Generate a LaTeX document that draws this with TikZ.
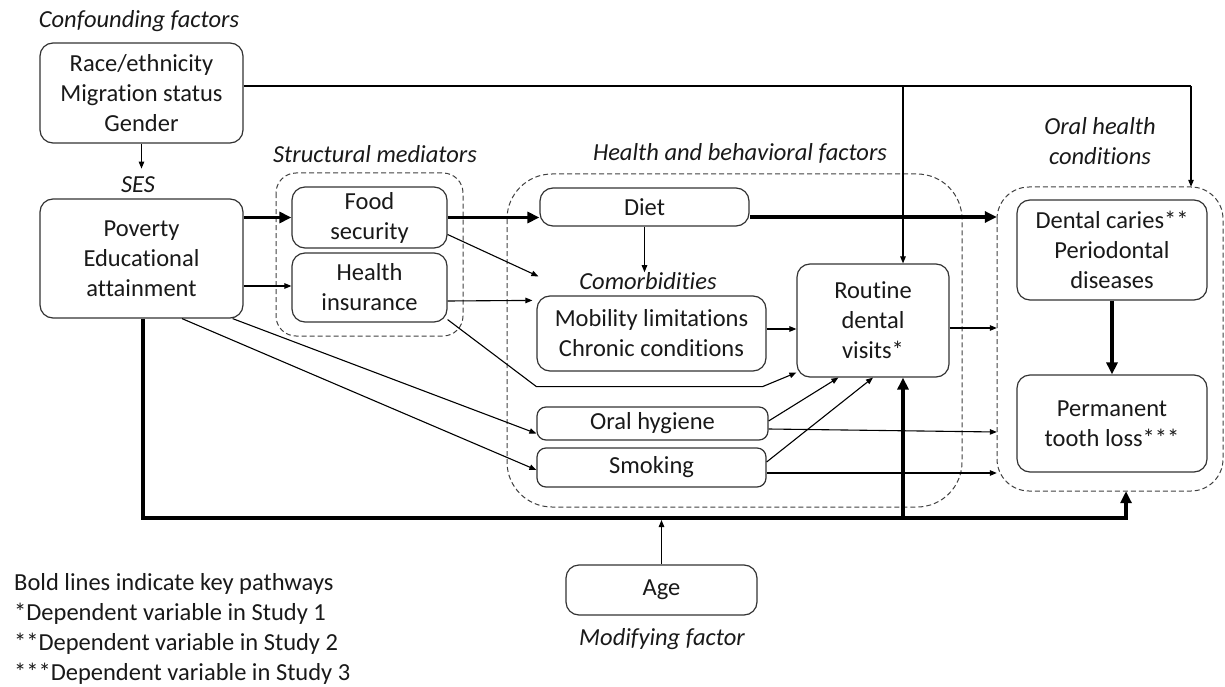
\documentclass[tikz,border=0pt]{standalone}
\usepackage{fontspec}
\setmainfont{Carlito}[Ligatures={NoCommon,NoContextual}]
\usetikzlibrary{arrows.meta,calc}

\tikzset{
  txt/.style={font=\fontsize{24.5}{30}\selectfont, text=black!90, align=center, inner sep=0pt},
  lbl/.style={txt, font=\fontsize{24.5}{30}\selectfont\itshape},
  factor/.style={txt, draw=black!80, line width=1.2pt, rounded corners=13pt, fill=white,
                 minimum width=#1},
  group/.style={draw=black!75, line width=1pt, dash pattern=on 5pt off 3pt, inner sep=0pt},
  thinarrow/.style={line width=1.1pt, -{Triangle[length=7pt,width=5.5pt]}},
  boldarrow/.style={line width=3.6pt, -{Triangle[length=12pt,width=11pt]}},
}

\begin{document}
\begin{tikzpicture}[x=1pt,y=-1pt]
\useasboundingbox (0,0) rectangle (1225,687);

% dashed groupings
\draw[group, rounded corners=20pt] (276,173) rectangle (463,336);
\draw[group, rounded corners=45pt] (507,174) rectangle (962,507);
\draw[group, rounded corners=32pt] (997,187) rectangle (1223,491);
\node[inner sep=0pt, minimum width=187pt, minimum height=163pt] (gstruct) at (369.5,254.5) {};
\node[inner sep=0pt, minimum width=455pt, minimum height=333pt] (ghealth) at (734.5,340.5) {};
\node[inner sep=0pt, minimum width=226pt, minimum height=304pt] (goral) at (1110,339) {};

% factor boxes
\node[factor=203pt, minimum height=100pt] (conf) at (141.5,93) {Race/ethnicity\\Migration status\\Gender};
\node[factor=203pt, minimum height=119pt] (ses) at (141.5,258.5) {Poverty\\Educational\\attainment};
\node[factor=155pt, minimum height=61pt] (food) at (369.5,217.5) {Food\\security};
\node[factor=155pt, minimum height=69pt] (hins) at (369.5,287.5) {Health\\insurance};
\node[factor=209pt, minimum height=38pt] (diet) at (644.5,207) {Diet};
\node[factor=229pt, minimum height=75pt] (comorb) at (651.5,333.5) {Mobility limitations\\Chronic conditions};
\node[factor=152pt, minimum height=113pt] (routine) at (873,320.5) {Routine\\dental\\visits*};
\node[factor=231pt, minimum height=33pt, rounded corners=9pt] (ohyg) at (652.5,423.5) {Oral hygiene};
\node[factor=229pt, minimum height=39pt, rounded corners=9pt] (smok) at (651.5,467.5) {Smoking};
\node[factor=190pt, minimum height=100pt] (dental) at (1112,250) {Dental caries**\\Periodontal\\diseases};
\node[factor=190pt, minimum height=97pt] (perm) at (1112,423.5) {Permanent\\tooth loss***};
\node[factor=191pt, minimum height=50pt] (age) at (661.5,590) {Age};

% italic headings
\node[lbl] (lconf) at (139,21) {Confounding factors};
\node[lbl] (lses) at (138,185) {SES};
\node[lbl] (lstruct) at (375,154) {Structural mediators};
\node[lbl] (lhealth) at (740,153) {Health and behavioral factors};
\node[lbl] (lcom) at (648,281) {Comorbidities};
\node[lbl] (loral) at (1100,141.5) {Oral health\\conditions};
\node[lbl] (lmod) at (662,639) {Modifying factor};

% legend
\node[txt, align=left, anchor=west] (legend) at (14,628.5)
  {Bold lines indicate key pathways\\*Dependent variable in Study 1\\**Dependent variable in Study 2\\***Dependent variable in Study 3};

% junction points of the long connectors
\coordinate (cfturn) at (1191,86);
\coordinate (cfdrop) at (903,86);
\coordinate (busR) at (1126,518);
\coordinate (busM) at (903,518);

% confounders
\draw[thinarrow] (conf.south) -- ($(conf.south)+(0,25)$) coordinate (cfses);
\draw[line width=1.1pt] (conf.east |- cfturn) -- (cfturn);
\draw[thinarrow] (cfturn) -- (cfturn |- goral.north);
\draw[thinarrow] (cfdrop) -- (cfdrop |- routine.north);

% SES to mediators
\draw[boldarrow] (ses.east |- food.west) -- (food.west);
\draw[thinarrow] ($(ses.east)+(0,27.5)$) -- ($(ses.east -| hins.west)+(0,27.5)$);
\draw[thinarrow] ($(ses.south east)+(-11,0)$) -- ($(ohyg.west)+(0,10)$);
\draw[thinarrow] ($(ses.south)+(40.5,0)$) -- ($(smok.west)+(0,2.5)$);

% structural mediators onward
\draw[boldarrow] (food.east) -- (food.east -| diet.west);
\draw[thinarrow] ($(food.east)+(0,17)$) -- ($(comorb.north west)+(2,-19)$);
\draw[thinarrow] ($(hins.east)+(0,13.5)$) -- ($(comorb.north west)+(-4,5)$);
\draw[thinarrow] ($(hins.south east)+(0,-3)$) -- ($(comorb.south west)+(0,15)$)
  -- ($(comorb.south east)+(-4,15)$) -- ($(routine.south west)+(0,-5)$);

% health and behavioral factors
\draw[boldarrow] ($(diet.east)+(0,10)$) -- ($(diet.east -| goral.west)+(0,10)$);
\draw[thinarrow] (diet.south) -- (diet.south |- lcom.north);
\draw[thinarrow] ($(comorb.east)+(0,-4.5)$) -- ($(comorb.east -| routine.west)+(0,-4.5)$);
\draw[thinarrow] ($(ohyg.east)+(0,-2.5)$) -- ($(routine.south west)+(42,0)$);
\draw[thinarrow] ($(smok.east)+(0,-5.5)$) -- (routine.south);
\draw[thinarrow] ($(ohyg.east)+(0,5.5)$) -- ($(goral.west)+(0,93)$);
\draw[thinarrow] ($(smok.east)+(0,5.5)$) -- ($(smok.east -| goral.west)+(0,5.5)$);
\draw[thinarrow] ($(routine.east)+(0,7.5)$) -- ($(routine.east -| goral.west)+(0,7.5)$);

% oral health conditions
\draw[boldarrow] (dental.south) -- (perm.north);

% key pathway from SES along the bottom
\draw[boldarrow] ($(ses.south)+(1.5,0)$) |- (busR) -- (busR |- goral.south);
\draw[boldarrow] (busM) -- (busM |- routine.south);

% age as modifier
\draw[thinarrow, shorten >=2pt] (age.north) -- (age.north |- busM);
\end{tikzpicture}
\end{document}
